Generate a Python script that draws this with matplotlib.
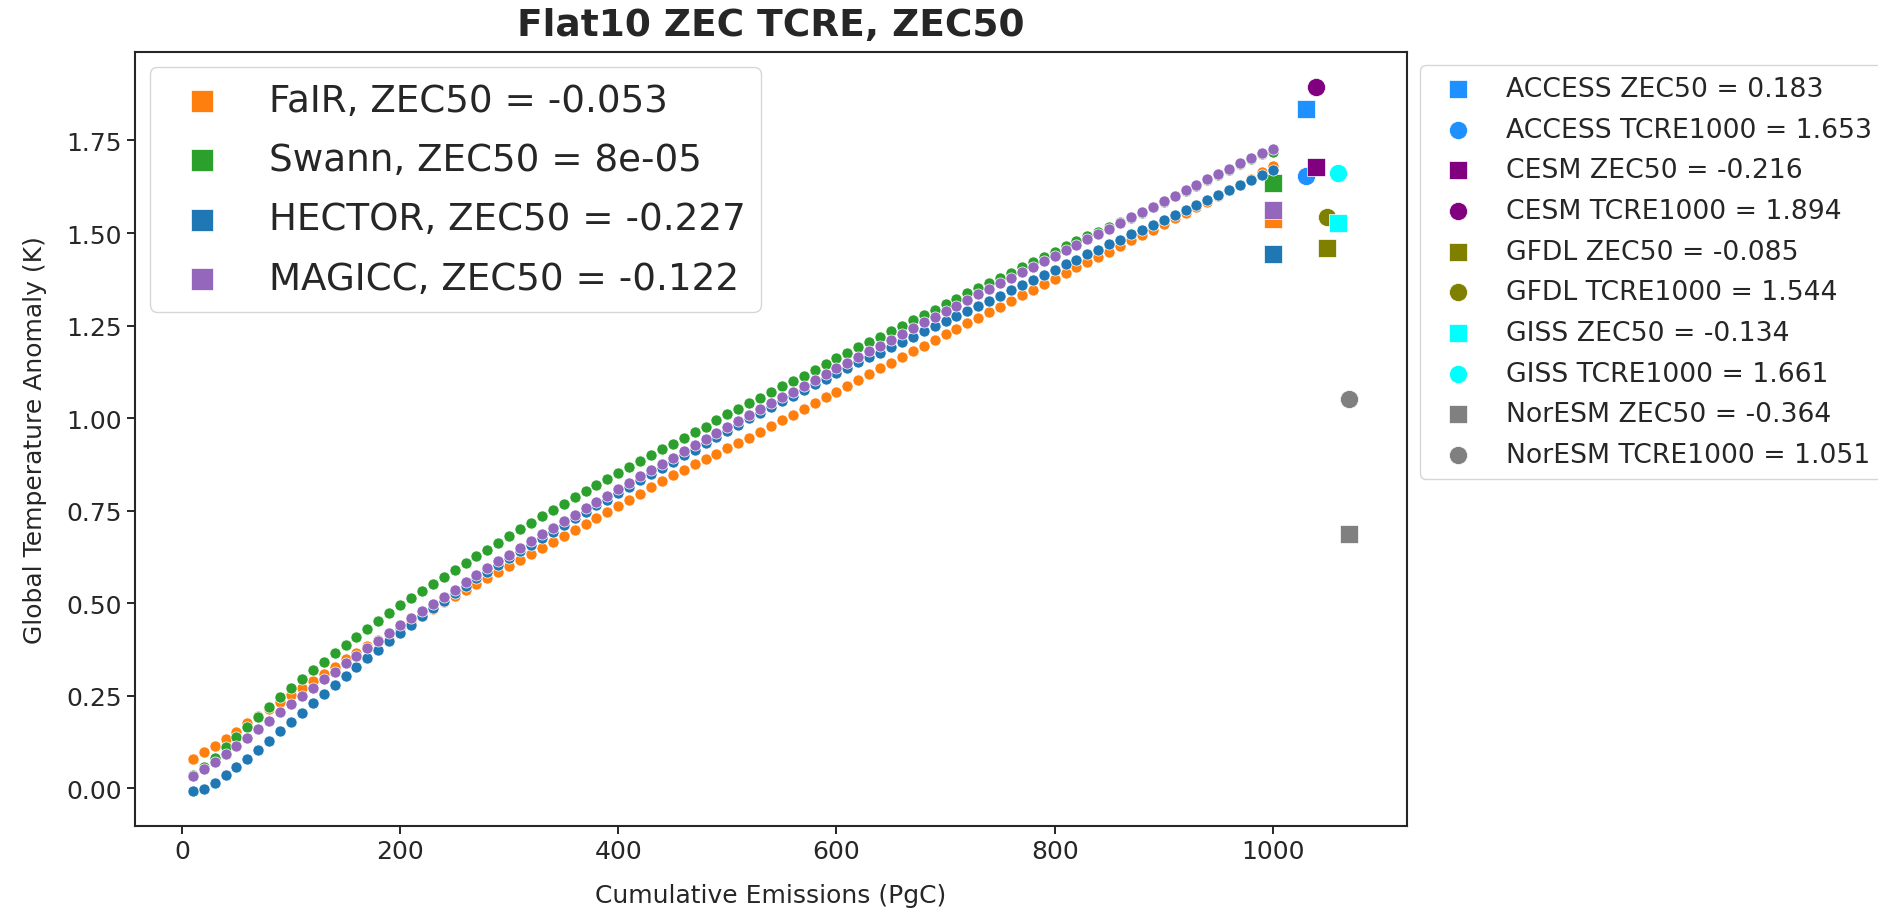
import numpy as np
import matplotlib
matplotlib.use("Agg")
import matplotlib.pyplot as plt
import seaborn as sns

# cumulative emissions (PgC) of the flat10 run
emissions = list(range(10, 1001, 10))

fair = [0.080, 0.097, 0.114, 0.132, 0.153, 0.175, 0.196, 0.213, 0.232, 0.252,
        0.271, 0.289, 0.308, 0.328, 0.348, 0.366, 0.383, 0.400, 0.416, 0.432,
        0.448, 0.466, 0.485, 0.504, 0.520, 0.536, 0.553, 0.568, 0.585, 0.601,
        0.617, 0.634, 0.649, 0.665, 0.682, 0.698, 0.714, 0.730, 0.746, 0.762,
        0.778, 0.796, 0.813, 0.830, 0.846, 0.861, 0.876, 0.889, 0.903, 0.918,
        0.933, 0.947, 0.962, 0.978, 0.994, 1.009, 1.025, 1.041, 1.056, 1.071,
        1.087, 1.103, 1.118, 1.134, 1.149, 1.164, 1.180, 1.196, 1.211, 1.227,
        1.241, 1.257, 1.271, 1.286, 1.301, 1.316, 1.332, 1.346, 1.362, 1.377,
        1.391, 1.407, 1.422, 1.436, 1.450, 1.466, 1.480, 1.494, 1.509, 1.525,
        1.540, 1.555, 1.570, 1.585, 1.600, 1.615, 1.629, 1.645, 1.665, 1.681]

swann = [0.036, 0.057, 0.083, 0.112, 0.139, 0.166, 0.193, 0.220, 0.246, 0.272,
         0.296, 0.319, 0.342, 0.365, 0.388, 0.409, 0.431, 0.453, 0.474, 0.495,
         0.514, 0.534, 0.552, 0.572, 0.590, 0.608, 0.627, 0.644, 0.663, 0.681,
         0.699, 0.717, 0.735, 0.752, 0.769, 0.786, 0.802, 0.819, 0.835, 0.852,
         0.868, 0.884, 0.899, 0.916, 0.931, 0.946, 0.962, 0.977, 0.994, 1.010,
         1.025, 1.041, 1.055, 1.070, 1.086, 1.100, 1.115, 1.130, 1.145, 1.161,
         1.176, 1.191, 1.205, 1.220, 1.235, 1.250, 1.265, 1.279, 1.293, 1.308,
         1.322, 1.337, 1.351, 1.365, 1.379, 1.392, 1.407, 1.421, 1.436, 1.450,
         1.464, 1.478, 1.491, 1.504, 1.517, 1.530, 1.541, 1.555, 1.569, 1.585,
         1.599, 1.613, 1.628, 1.643, 1.657, 1.671, 1.686, 1.700, 1.713, 1.720]

hector = [-0.007, -0.001, 0.015, 0.035, 0.056, 0.079, 0.103, 0.128, 0.154, 0.180,
          0.204, 0.230, 0.255, 0.279, 0.304, 0.328, 0.351, 0.374, 0.397, 0.419,
          0.442, 0.465, 0.487, 0.507, 0.527, 0.547, 0.567, 0.585, 0.604, 0.622,
          0.640, 0.658, 0.676, 0.693, 0.711, 0.729, 0.746, 0.764, 0.780, 0.797,
          0.814, 0.832, 0.849, 0.866, 0.882, 0.899, 0.915, 0.932, 0.948, 0.964,
          0.982, 0.999, 1.014, 1.030, 1.045, 1.061, 1.076, 1.091, 1.106, 1.121,
          1.136, 1.151, 1.166, 1.177, 1.191, 1.205, 1.219, 1.234, 1.248, 1.262,
          1.276, 1.290, 1.304, 1.317, 1.331, 1.345, 1.359, 1.373, 1.386, 1.400,
          1.415, 1.428, 1.442, 1.455, 1.469, 1.482, 1.496, 1.509, 1.522, 1.536,
          1.549, 1.563, 1.576, 1.590, 1.603, 1.617, 1.630, 1.644, 1.657, 1.669]

magicc = [0.033, 0.051, 0.072, 0.093, 0.115, 0.136, 0.160, 0.182, 0.205, 0.227,
          0.250, 0.271, 0.294, 0.315, 0.337, 0.358, 0.379, 0.399, 0.419, 0.440,
          0.461, 0.479, 0.499, 0.516, 0.536, 0.556, 0.576, 0.594, 0.613, 0.631,
          0.649, 0.667, 0.686, 0.703, 0.721, 0.739, 0.756, 0.774, 0.790, 0.808,
          0.825, 0.843, 0.860, 0.877, 0.893, 0.910, 0.926, 0.943, 0.959, 0.975,
          0.992, 1.009, 1.025, 1.041, 1.056, 1.071, 1.087, 1.102, 1.118, 1.134,
          1.149, 1.164, 1.180, 1.196, 1.212, 1.228, 1.244, 1.259, 1.274, 1.290,
          1.304, 1.320, 1.334, 1.349, 1.364, 1.379, 1.394, 1.409, 1.424, 1.439,
          1.453, 1.468, 1.483, 1.498, 1.512, 1.527, 1.542, 1.556, 1.571, 1.586,
          1.601, 1.615, 1.630, 1.645, 1.660, 1.674, 1.689, 1.703, 1.716, 1.726]

emulators = ['FaIR', 'Swann', 'HECTOR', 'MAGICC']
emu_curves = [fair, swann, hector, magicc]
emu_colors = ['tab:orange', 'tab:green', 'tab:blue', 'tab:purple']
emu_zec50 = ['-0.053', '8e-05', '-0.227', '-0.122']
emu_square = [1.539, 1.636, 1.442, 1.563]   # ZEC50 marker heights at 1000 PgC

esms = ['ACCESS', 'CESM', 'GFDL', 'GISS', 'NorESM']
esm_x = [1030, 1040, 1050, 1060, 1070]
esm_colors = ['dodgerblue', 'purple', 'olive', 'cyan', 'gray']
esm_tcre = [1.653, 1.894, 1.544, 1.661, 1.051]
esm_zec50 = [0.183, -0.216, -0.085, -0.134, -0.364]

sns.set_theme(style='ticks')
plt.rcParams['font.family'] = ['DejaVu Sans']
plt.rcParams['axes.linewidth'] = 1.5
plt.rcParams['xtick.major.size'] = 6
plt.rcParams['ytick.major.size'] = 6
plt.rcParams['xtick.major.width'] = 1.4
plt.rcParams['ytick.major.width'] = 1.4

fig = plt.figure(figsize=(18.78, 9.12), dpi=100)
ax = fig.add_axes([0.0719, 0.0932, 0.6773, 0.8487])

emu_handles = []
for name, curve, col, zec, sq in zip(emulators, emu_curves, emu_colors, emu_zec50, emu_square):
    ax.scatter(emissions, curve, s=64, color=col, edgecolor='white', linewidth=0.5)
    h = ax.scatter([1000], [sq], s=170, marker='s', color=col, edgecolor='white',
                   linewidth=0.5, label=f'{name}, ZEC50 = {zec}')
    emu_handles.append(h)

esm_handles = []
for name, xx, col, tcre, zec in zip(esms, esm_x, esm_colors, esm_tcre, esm_zec50):
    h1 = ax.scatter([xx], [tcre + zec], s=170, marker='s', color=col, edgecolor='white',
                    linewidth=0.5, label=f'{name} ZEC50 = {zec:.3f}')
    h2 = ax.scatter([xx], [tcre], s=170, marker='o', color=col, edgecolor='white',
                    linewidth=0.5, label=f'{name} TCRE1000 = {tcre:.3f}')
    esm_handles += [h1, h2]

ax.set_xticks([0, 200, 400, 600, 800, 1000])
ax.set_yticks([0.0, 0.25, 0.5, 0.75, 1.0, 1.25, 1.5, 1.75])
ax.tick_params(labelsize=18)
ax.set_xlabel('Cumulative Emissions (PgC)', fontsize=18, labelpad=14)
ax.set_ylabel('Global Temperature Anomaly (K)', fontsize=18, labelpad=14)
ax.set_title('Flat10 ZEC TCRE, ZEC50', fontsize=27, fontweight='bold', pad=12)

leg1 = ax.legend(handles=emu_handles, loc='upper left', fontsize=26.8, markerscale=1.2,
                 labelspacing=0.6, borderaxespad=0.4)
ax.add_artist(leg1)
ax.legend(handles=esm_handles, loc='upper left', bbox_to_anchor=(1, 1),
          fontsize=19.2, labelspacing=0.55)

fig.savefig('out.png', dpi=100)
